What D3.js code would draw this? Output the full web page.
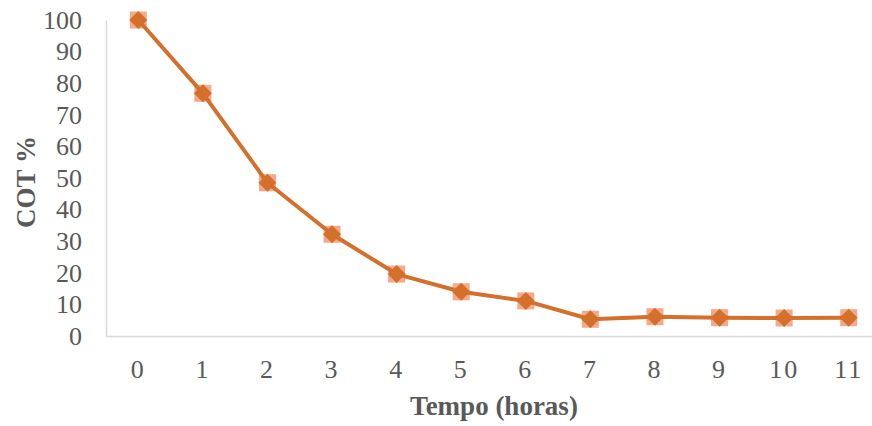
<!DOCTYPE html>
<html><head><meta charset="utf-8">
<script src="https://cdn.jsdelivr.net/npm/d3@7"></script>
<style>body{margin:0;background:#fff;overflow:hidden}svg{display:block}</style>
</head><body>
<svg id="c" width="872" height="426"></svg>
<script>
const categories = ["0","1","2","3","4","5","6","7","8","9","10","11"];
const cotValues = [100, 76.8, 48.5, 32.2, 19.6, 14.0, 11.1, 5.3, 6.1, 5.8, 5.7, 5.8];
const yTicks = [0,10,20,30,40,50,60,70,80,90,100];
const xTitle = "Tempo (horas)";
const yTitle = "COT %";

const svg = d3.select("#c");
const mLeft = 106, mTop = 20, mBottom = 336, bandRight = 881;
const x = d3.scaleBand().domain(categories).range([mLeft, bandRight]);
const y = d3.scaleLinear().domain([0, 100]).range([mBottom, mTop]);
const font = "'Liberation Serif','Times New Roman',serif";
const gray = "#595959";

// axes
const ya = svg.append("g").attr("transform", `translate(${mLeft},0)`)
  .call(d3.axisLeft(y).tickValues(yTicks).tickSize(0).tickPadding(24));
ya.select(".domain").attr("stroke", "#d9d9d9").attr("stroke-width", 1.5);
ya.selectAll("text").attr("font-family", font).attr("font-size", 26).attr("fill", gray);

const xa = svg.append("g").attr("transform", `translate(0,${mBottom})`)
  .call(d3.axisBottom(x).tickSize(0).tickPadding(24));
xa.select(".domain").attr("stroke", "#d9d9d9").attr("stroke-width", 1.5);
xa.selectAll("text").attr("font-family", font).attr("font-size", 26).attr("fill", gray)
  .attr("letter-spacing", 2);

const cx = d => x(d) + x.bandwidth() / 2;
const pts = categories.map((c, i) => ({c, v: cotValues[i]}));

// square marker series (background)
svg.append("g").selectAll("rect").data(pts).join("rect")
  .attr("x", d => cx(d.c) - 8.5).attr("y", d => y(d.v) - 8.5)
  .attr("width", 17).attr("height", 17).attr("fill", "#F4A98A");

// line
svg.append("path").datum(pts)
  .attr("d", d3.line().x(d => cx(d.c)).y(d => y(d.v)))
  .attr("fill", "none").attr("stroke", "#D4702C").attr("stroke-width", 4).attr("stroke-linejoin", "round");

// diamonds
svg.append("g").selectAll("path").data(pts).join("path")
  .attr("transform", d => `translate(${cx(d.c)},${y(d.v)})`)
  .attr("d", "M0,-9L9,0L0,9L-9,0Z").attr("fill", "#D4702C");

// titles
svg.append("text").attr("x", 494).attr("y", 415).attr("text-anchor", "middle")
  .attr("font-family", font).attr("font-size", 27).attr("font-weight", "bold").attr("fill", gray)
  .text(xTitle);
svg.append("text").attr("transform", "translate(35,182) rotate(-90)").attr("text-anchor", "middle")
  .attr("font-family", font).attr("font-size", 27).attr("font-weight", "bold").attr("fill", gray)
  .text(yTitle);
</script>
</body></html>
